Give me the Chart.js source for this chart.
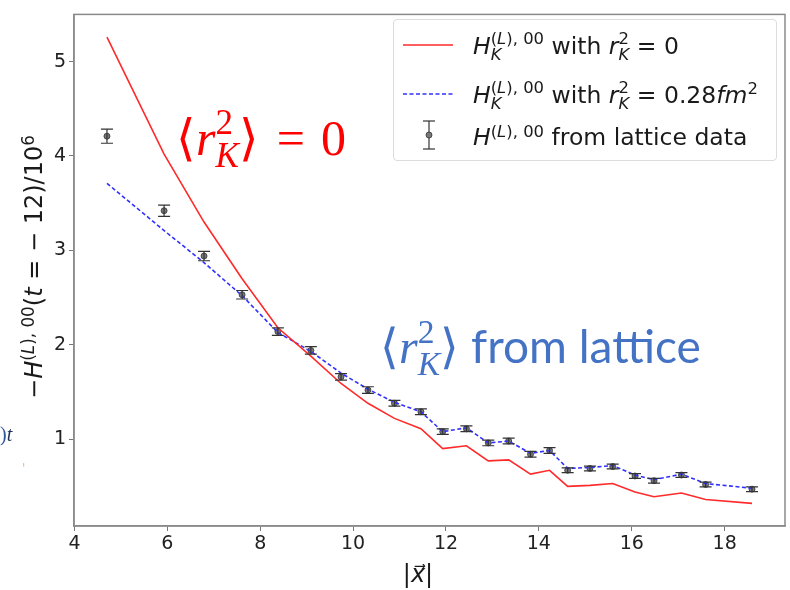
<!DOCTYPE html>
<html>
<head>
<meta charset="utf-8">
<script src="https://cdn.jsdelivr.net/npm/chart.js@4.4.0/dist/chart.umd.min.js"></script>
<style>
  html, body { margin: 0; padding: 0; background: #fff; }
  #wrap { position: relative; width: 790px; height: 590px; overflow: hidden; font-family: 'DejaVu Sans', sans-serif; }
  #chart { position: absolute; left: 0; top: 0; }
  .ov { position: absolute; white-space: nowrap; line-height: 1; }
  .sc { display: inline-block; font-size: 0.7em; line-height: 0.95; vertical-align: -0.36em; text-align: left; }
  .sc span { display: block; }
  .up { font-size: 0.7em; vertical-align: 0.5em; }
  #legend { position: absolute; left: 393px; top: 19px; width: 382px; height: 140px; border: 1px solid #dcdcdc; border-radius: 4px; background: rgba(255,255,255,0.85); }
  .lrow { position: absolute; left: 79px; font-size: 23.5px; color: #1a1a1a; }
  .samp { position: absolute; }
  #ytitle { left: 33px; top: 267px; transform: translate(-50%, -50%) rotate(-90deg); font-size: 24px; color: #1a1a1a; }
  #xtitle { left: 418px; top: 574px; transform: translate(-50%, -50%); font-size: 24px; color: #1a1a1a; }
  #redNote { left: 176px; top: 106px; font-family: 'Liberation Serif', serif; font-size: 50px; color: #ff0000; }
  #redNote .eq { margin: 0 16px 0 18px; }
  #blueNote { left: 380px; top: 316px; font-family: 'Liberation Serif', serif; font-size: 48px; color: #4472c4; }
  #blueNote .txt { font-family: 'Lato', sans-serif; font-size: 46px; }
  #edge { left: 0px; top: 424px; font-family: 'Liberation Serif', serif; font-size: 20px; }
</style>
</head>
<body>
<div id="wrap">
  <canvas id="chart" width="790" height="590"></canvas>

  <div class="ov" id="ytitle">−<i>H</i><span class="up">(<i>L</i>), 00</span>(<i>t</i> = − 12)/10<span class="up">6</span></div>
  <div class="ov" id="xtitle">|<i>x⃗</i>|</div>

  <div id="legend">
    <svg class="samp" style="left:8px;top:0" width="52" height="140">
      <line x1="1" y1="25" x2="51" y2="25" stroke="#ff2a2a" stroke-width="1.6"/>
      <line x1="1" y1="74" x2="51" y2="74" stroke="#3030ff" stroke-width="1.6" stroke-dasharray="4,2.5"/>
      <line x1="27" y1="101" x2="27" y2="129" stroke="#333" stroke-width="1.2"/>
      <line x1="21" y1="101" x2="33" y2="101" stroke="#333" stroke-width="1.2"/>
      <line x1="21" y1="129" x2="33" y2="129" stroke="#333" stroke-width="1.2"/>
      <circle cx="27" cy="115" r="3" fill="#777" stroke="#333" stroke-width="0.8"/>
    </svg>
    <div class="ov lrow" style="top:11px"><i>H</i><span class="sc"><span>(<i>L</i>), 00</span><span><i>K</i></span></span> with <i>r</i><span class="sc"><span>2</span><span><i>K</i></span></span> = 0</div>
    <div class="ov lrow" style="top:60px"><i>H</i><span class="sc"><span>(<i>L</i>), 00</span><span><i>K</i></span></span> with <i>r</i><span class="sc"><span>2</span><span><i>K</i></span></span> = 0.28<i>fm</i><span class="up">2</span></div>
    <div class="ov lrow" style="top:104px"><i>H</i><span class="up">(<i>L</i>), 00</span> from lattice data</div>
  </div>

  <div class="ov" id="redNote">⟨<i>r</i><span class="sc"><span>2</span><span><i>K</i></span></span>⟩<span class="eq">=</span>0</div>
  <div class="ov" id="blueNote">⟨<i>r</i><span class="sc"><span>2</span><span><i>K</i></span></span>⟩ <span class="txt">from lattice</span></div>
  <div class="ov" id="edge"><span style="color:#2f5597">)</span><i style="color:#1f2f5f">t</i></div>
  <div class="ov" style="left:22px;top:462px;font-size:12px;color:#f4b183">'</div>
</div>

<script>
// |x| positions shared by all three series
const xVals = [4.70, 5.93, 6.79, 7.61, 8.38, 9.09, 9.74, 10.32, 10.89, 11.46, 11.93, 12.44,
               12.91, 13.35, 13.82, 14.23, 14.62, 15.10, 15.59, 16.07, 16.48, 17.07, 17.59, 18.59];

// H_K with r_K^2 = 0
const redVals = [5.26, 4.02, 3.30, 2.70, 2.18, 1.88, 1.59, 1.38, 1.22, 1.11, 0.90, 0.93,
                 0.77, 0.78, 0.63, 0.67, 0.50, 0.51, 0.53, 0.44, 0.39, 0.43, 0.36, 0.32];

// H_K with r_K^2 = 0.28 fm^2
const blueVals = [3.71, 3.21, 2.87, 2.52, 2.13, 1.93, 1.70, 1.53, 1.39, 1.29, 1.08, 1.12,
                  0.96, 0.98, 0.85, 0.88, 0.69, 0.70, 0.72, 0.62, 0.57, 0.63, 0.53, 0.48];

// lattice data and its errors
const latVals = [4.21, 3.42, 2.94, 2.53, 2.14, 1.94, 1.66, 1.52, 1.38, 1.29, 1.08, 1.11,
                 0.96, 0.98, 0.84, 0.88, 0.67, 0.69, 0.71, 0.61, 0.56, 0.62, 0.52, 0.47];
const latErr = [0.075, 0.06, 0.05, 0.045, 0.04, 0.04, 0.035, 0.035, 0.03, 0.03, 0.03, 0.03,
                0.03, 0.03, 0.03, 0.03, 0.025, 0.025, 0.025, 0.025, 0.025, 0.025, 0.025, 0.025];

const xTicks = [4, 6, 8, 10, 12, 14, 16, 18];
const yTicks = [1, 2, 3, 4, 5];

const toPts = (vals) => xVals.map((x, i) => ({ x, y: vals[i] }));

const errorBars = {
    id: 'errorBars',
    afterDatasetsDraw(chart) {
        const { ctx, scales: { x, y } } = chart;
        ctx.save();
        ctx.strokeStyle = '#333';
        ctx.lineWidth = 1.2;
        xVals.forEach((xv, i) => {
            const px = x.getPixelForValue(xv);
            const top = y.getPixelForValue(latVals[i] + latErr[i]);
            const bot = y.getPixelForValue(latVals[i] - latErr[i]);
            ctx.beginPath();
            ctx.moveTo(px, top); ctx.lineTo(px, bot);
            ctx.moveTo(px - 6, top); ctx.lineTo(px + 6, top);
            ctx.moveTo(px - 6, bot); ctx.lineTo(px + 6, bot);
            ctx.stroke();
        });
        ctx.restore();
    },
};

const frame = {
    id: 'frame',
    afterDraw(chart) {
        const { ctx, chartArea: a } = chart;
        ctx.save();
        ctx.strokeStyle = '#8a8a8a';
        ctx.lineWidth = 1.5;
        ctx.strokeRect(a.left, a.top, a.right - a.left, a.bottom - a.top);
        ctx.restore();
    },
};

const tickFont = { family: 'DejaVu Sans', size: 19 };

new Chart(document.getElementById('chart'), {
    type: 'line',
    data: {
        datasets: [
            {
                label: 'r2 = 0',
                data: toPts(redVals),
                borderColor: '#ff2a2a',
                borderWidth: 1.6,
                pointRadius: 0,
                tension: 0,
            },
            {
                label: 'r2 = 0.28',
                data: toPts(blueVals),
                borderColor: '#3030ff',
                borderWidth: 1.6,
                borderDash: [4, 2.5],
                pointRadius: 0,
                tension: 0,
            },
            {
                label: 'lattice',
                data: toPts(latVals),
                showLine: false,
                pointRadius: 3,
                pointBackgroundColor: '#777',
                pointBorderColor: '#333',
                pointBorderWidth: 0.8,
            },
        ],
    },
    options: {
        responsive: false,
        animation: false,
        devicePixelRatio: 1,
        layout: { padding: { top: 5, right: 5, left: 0, bottom: 0 } },
        plugins: { legend: { display: false }, tooltip: { enabled: false } },
        scales: {
            x: {
                type: 'linear',
                min: 3.99,
                max: 19.3,
                afterBuildTicks: (s) => { s.ticks = xTicks.map((v) => ({ value: v })); },
                afterFit: (s) => { s.height = 64; },
                grid: { drawOnChartArea: false, tickLength: 5, color: '#777' },
                border: { color: '#8a8a8a', width: 1.5 },
                ticks: { color: '#222', font: tickFont, padding: 2, maxRotation: 0, autoSkip: false },
            },
            y: {
                type: 'linear',
                min: 0.08,
                max: 5.5,
                afterBuildTicks: (s) => { s.ticks = yTicks.map((v) => ({ value: v })); },
                afterFit: (s) => { s.width = 74; },
                grid: { drawOnChartArea: false, tickLength: 5, color: '#777' },
                border: { color: '#8a8a8a', width: 1.5 },
                ticks: { color: '#222', font: tickFont, padding: 3 },
            },
        },
    },
    plugins: [errorBars, frame],
});
</script>
</body>
</html>
